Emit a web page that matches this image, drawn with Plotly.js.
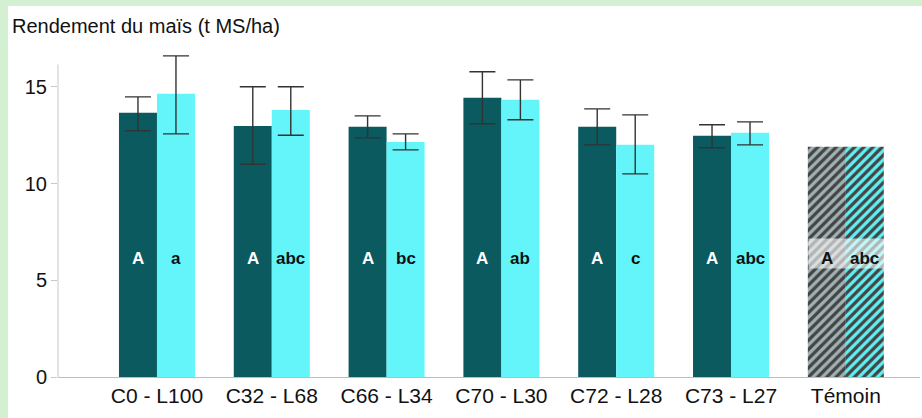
<!DOCTYPE html>
<html>
<head>
<meta charset="utf-8">
<script src="https://cdn.plot.ly/plotly-3.0.1.min.js"></script>
<style>
html,body{margin:0;padding:0;background:#d3f0d3;width:922px;height:418px;overflow:hidden;}
#chart{position:absolute;left:8px;top:6px;width:914px;height:412px;background:#fff;}
</style>
</head>
<body>
<div id="chart"></div>
<script>
// ---- data ----
const categories = ["C0 - L100", "C32 - L68", "C66 - L34", "C70 - L30", "C72 - L28", "C73 - L27", "Témoin"];
const darkValues = [13.66, 12.98, 12.93, 14.43, 12.93, 12.47, 11.9];
const darkErrPlus = [0.82, 2.02, 0.57, 1.35, 0.93, 0.57, null];
const darkErrMinus = [0.93, 1.98, 0.57, 1.34, 0.93, 0.62, null];
const lightValues = [14.64, 13.8, 12.15, 14.33, 12.0, 12.62, 11.9];
const lightErrPlus = [1.96, 1.2, 0.42, 1.03, 1.55, 0.57, null];
const lightErrMinus = [2.07, 1.3, 0.41, 1.03, 1.5, 0.62, null];
const darkLetters = ["A", "A", "A", "A", "A", "A", "A"];
const lightLetters = ["a", "abc", "bc", "ab", "c", "abc", "abc"];
const controlCategory = "Témoin";
const yTickValues = [0, 5, 10, 15];
const titleText = "Rendement du maïs (t MS/ha)";

// ---- styles ----
const darkColor = "#0a5a60";
const lightColor = "#63f5fa";
const darkPatternBg = "#9fb1b3";
const darkPatternFg = "#0b5559";
const lightPatternBg = "#60eff3";
const lightPatternFg = "#24a7ad";
const isControl = categories.map(c => c === controlCategory);
const toNaN = a => a.map(v => (v === null ? NaN : v));

const errStyle = {type: "data", symmetric: false, color: "#333", thickness: 1.4, width: 13};

function makeTrace(values, plus, minus, baseColor, pBg, pFg) {
  return {
    type: "bar", x: categories, y: values,
    marker: {
      color: isControl.map(c => c ? pBg : baseColor),
      pattern: {
        shape: isControl.map(c => c ? "/" : ""),
        fgcolor: pFg,
        fgopacity: 1,
        size: 6.5, solidity: 0.5, fillmode: "overlay"
      },
      line: {width: 0}
    },
    error_y: Object.assign({array: toNaN(plus), arrayminus: toNaN(minus)}, errStyle),
    hoverinfo: "skip"
  };
}
const darkTrace = makeTrace(darkValues, darkErrPlus, darkErrMinus, darkColor, darkPatternBg, darkPatternFg);
const lightTrace = makeTrace(lightValues, lightErrPlus, lightErrMinus, lightColor, lightPatternBg, lightPatternFg);

const letterY = 6.15;
const annotations = [];
categories.forEach((c, i) => {
  if (isControl[i]) {
    annotations.push({x: c, y: letterY, xref: "x", yref: "y", text: " ", showarrow: false,
      width: 77, height: 29, yshift: 5, xshift: 2, bgcolor: "rgba(255,255,255,0.6)", borderpad: 0});
  }
  annotations.push({x: c, y: letterY, xref: "x", yref: "y", text: "<b>" + darkLetters[i] + "</b>",
    showarrow: false, xshift: -19,
    font: {family: "Liberation Sans, Arial, sans-serif", size: 17, color: isControl[i] ? "#111" : "#fff"}});
  annotations.push({x: c, y: letterY, xref: "x", yref: "y", text: "<b>" + lightLetters[i] + "</b>",
    showarrow: false, xshift: 19,
    font: {family: "Liberation Sans, Arial, sans-serif", size: 17, color: "#111"}});
});

const layout = {
  width: 914, height: 412,
  margin: {l: 50, r: 2, t: 46, b: 41},
  paper_bgcolor: "#fff", plot_bgcolor: "#fff",
  showlegend: false,
  barmode: "group", bargap: 0.338, bargroupgap: 0,
  title: {text: titleText, x: 4/914, xanchor: "left", xref: "container",
          y: 1 - 13/412, yanchor: "top", yref: "container",
          font: {family: "Liberation Sans, Arial, sans-serif", size: 20, color: "#111"}},
  xaxis: {
    type: "category", range: [-0.862, 6.646],
    showline: true, linecolor: "#bdbdbd", linewidth: 1,
    ticks: "", showgrid: false, zeroline: false,
    tickfont: {family: "Liberation Sans, Arial, sans-serif", size: 21, color: "#111"}
  },
  yaxis: {
    range: [0, 16.8], tickvals: yTickValues, ticktext: yTickValues.map(String),
    showline: false, showgrid: false, zeroline: false,
    ticks: "outside", ticklen: 6, tickcolor: "#c8c8c8", tickwidth: 1,
    tickfont: {family: "Liberation Sans, Arial, sans-serif", size: 20, color: "#111"}
  },
  shapes: [{type: "line", xref: "paper", yref: "y", x0: 0, x1: 0, y0: 0, y1: 16.15,
            line: {color: "#c8c8c8", width: 1}, layer: "below"}],
  annotations: annotations
};

Plotly.newPlot("chart", [darkTrace, lightTrace], layout, {staticPlot: true, displayModeBar: false});
</script>
</body>
</html>
